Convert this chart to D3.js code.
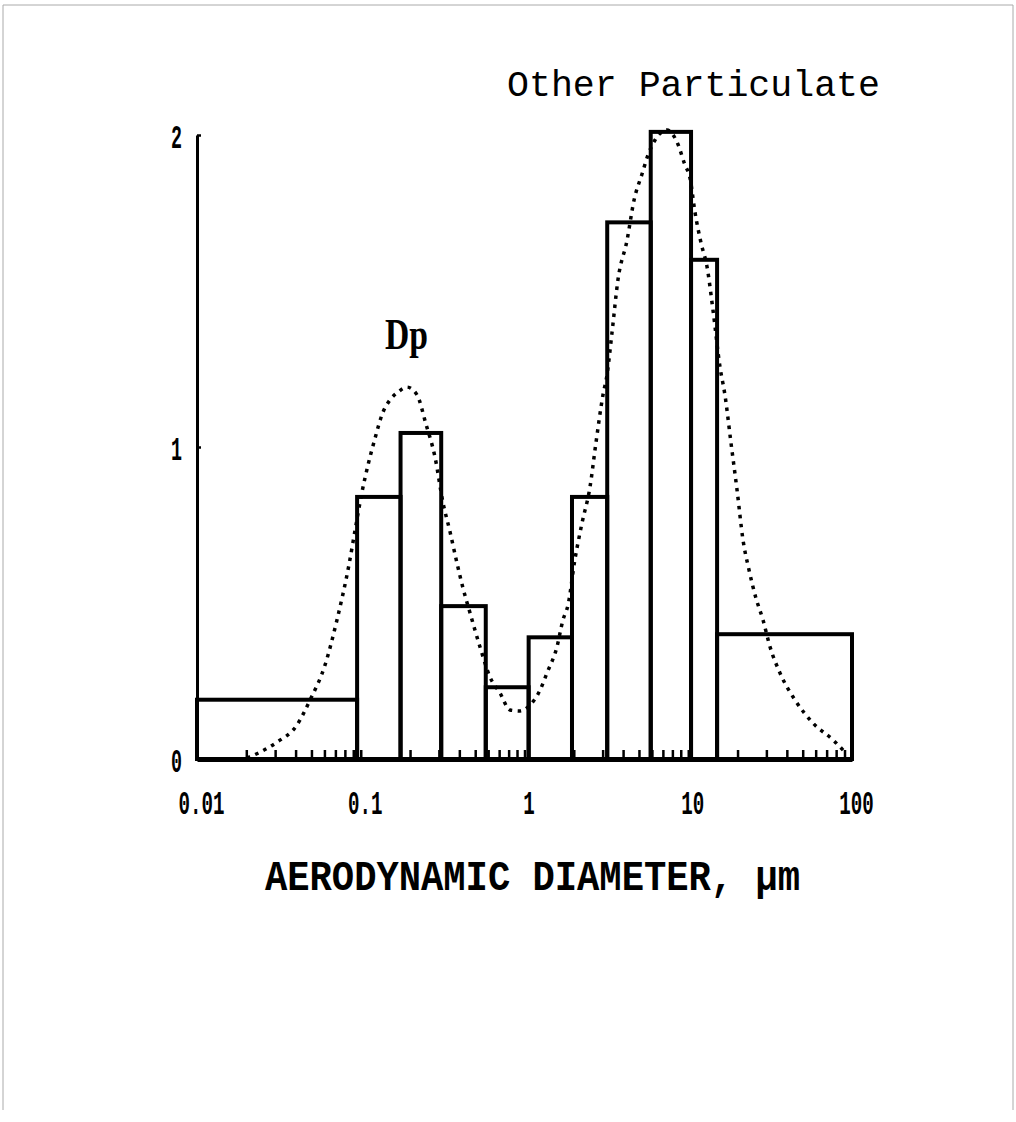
<!DOCTYPE html>
<html>
<head>
<meta charset="utf-8">
<script src="https://cdn.jsdelivr.net/npm/d3@7"></script>
<style>
	body { margin: 0; background: #fff; }
	svg { display: block; }
	.axis path, .axis line { stroke: #000; }
	.tick-label { font-family: 'Liberation Mono', monospace; font-weight: bold; font-size: 34px; fill: #000; }
</style>
</head>
<body>
<div id="chart"></div>
<script>
	// impactor stage edges (um) and measured heights
	const binEdges = [0.01, 0.095, 0.175, 0.31, 0.58, 1.06, 1.95, 3.2, 5.9, 10.4, 15, 100];
	const binHeights = [0.19, 0.84, 1.045, 0.49, 0.23, 0.39, 0.84, 1.72, 2.01, 1.6, 0.40];

	// dotted fitted curve
	const curveDiameters = [0.0202, 0.0243, 0.0308, 0.0408, 0.049, 0.0605, 0.0716, 0.0847, 0.0935, 0.1018,
		0.1107, 0.1205, 0.1368, 0.151, 0.1688, 0.1916, 0.2206, 0.25, 0.284, 0.318,
		0.351, 0.387, 0.421, 0.465, 0.535, 0.615, 0.708, 0.815, 0.939, 1.081,
		1.245, 1.372, 1.578, 1.718, 1.845, 2.03, 2.244, 2.512, 2.735, 3.015,
		3.19, 3.42, 3.72, 4.23, 4.67, 5.22, 5.68, 6.27, 7.41, 8.53,
		9.55, 10.25, 10.99, 11.97, 13.03, 14.16, 15.63, 16.75, 18.24, 19.86,
		21.6, 23.5, 25.9, 28.6, 31.6, 36.3, 44.9, 57.8, 76.6, 90.6];
	const curveValues = [0.003, 0.022, 0.054, 0.109, 0.189, 0.301, 0.446, 0.622, 0.75, 0.856,
		0.942, 1.016, 1.112, 1.151, 1.176, 1.192, 1.167, 1.074, 0.968, 0.821,
		0.728, 0.628, 0.548, 0.468, 0.359, 0.263, 0.212, 0.157, 0.154, 0.173,
		0.221, 0.276, 0.359, 0.446, 0.494, 0.638, 0.756, 0.872, 1.016, 1.167,
		1.231, 1.365, 1.535, 1.663, 1.792, 1.875, 1.936, 1.984, 2.016, 1.978,
		1.904, 1.862, 1.753, 1.654, 1.577, 1.439, 1.256, 1.167, 1.013, 0.862,
		0.702, 0.606, 0.516, 0.446, 0.359, 0.276, 0.189, 0.115, 0.061, 0.022];

	const xTickValues = [0.01, 0.1, 1, 10, 100];
	const xTickLabels = ['0.01', '0.1', '1', '10', '100'];
	const yTickValues = [0, 1, 2];
	const yTickLabels = ['0', '1', '2'];

	const margin = { top: 135, left: 197 };
	const width = 655;
	const height = 624;

	const svg = d3.select('#chart').append('svg')
		.attr('width', 1016)
		.attr('height', 1122);

	// scanned page frame
	svg.append('path')
		.attr('d', 'M3,1110V5H1013V1110')
		.style('fill', 'none')
		.style('stroke', '#aaa')
		.style('stroke-width', 1);

	const chart = svg.append('g')
		.attr('transform', `translate(${margin.left}, ${margin.top})`);

	const x = d3.scaleLog()
		.domain([0.01, 100])
		.range([0, width]);
	const y = d3.scaleLinear()
		.domain([0, 2])
		.range([height, 0]);

	// bars
	const bins = binHeights.map((h, i) => ({ x0: binEdges[i], x1: binEdges[i + 1], value: h }));
	chart.selectAll('.bar')
		.data(bins)
		.enter().append('rect')
			.attr('class', 'bar')
			.attr('x', d => x(d.x0))
			.attr('y', d => y(d.value))
			.attr('width', d => x(d.x1) - x(d.x0))
			.attr('height', d => y(0) - y(d.value))
			.style('fill', 'none')
			.style('stroke', '#000')
			.style('stroke-width', 4);

	// dotted curve
	const line = d3.line()
		.x(d => x(d[0]))
		.y(d => y(d[1]))
		.curve(d3.curveMonotoneX);
	chart.append('path')
		.datum(d3.zip(curveDiameters, curveValues))
		.attr('d', line)
		.style('fill', 'none')
		.style('stroke', '#000')
		.style('stroke-width', 3.5)
		.style('stroke-dasharray', '3.5,5.5');

	// minor ticks pointing up
	chart.append('g')
		.attr('class', 'x axis minor')
		.attr('transform', `translate(0, ${height})`)
		.call(d3.axisTop(x).tickValues(x.ticks()).tickSize(9).tickFormat(''))
		.call(g => g.select('.domain').remove())
		.call(g => g.selectAll('line').style('stroke-width', 2.5));

	// axes
	const xAxis = d3.axisBottom(x)
		.tickValues(xTickValues)
		.tickSize(0)
		.tickPadding(31)
		.tickFormat((d, i) => xTickLabels[i]);
	chart.append('g')
		.attr('class', 'x axis')
		.attr('transform', `translate(0, ${height})`)
		.call(xAxis)
		.call(g => g.select('.domain').style('stroke-width', 5))
		.call(g => g.selectAll('text')
			.attr('class', 'tick-label')
			.attr('dx', 4)
			.attr('textLength', (d, i) => xTickLabels[i].length * 11.5)
			.attr('lengthAdjust', 'spacingAndGlyphs'));

	const yAxis = d3.axisLeft(y)
		.tickValues(yTickValues)
		.tickSizeInner(-4)
		.tickSizeOuter(0)
		.tickPadding(15)
		.tickFormat((d, i) => yTickLabels[i]);
	chart.append('g')
		.attr('class', 'y axis')
		.call(yAxis)
		.call(g => g.select('.domain').style('stroke-width', 3))
		.call(g => g.selectAll('line').style('stroke-width', 2.5))
		.call(g => g.selectAll('text')
			.attr('class', 'tick-label')
			.attr('dy', '0.36em')
			.attr('textLength', 11)
			.attr('lengthAdjust', 'spacingAndGlyphs'));

	// labels
	chart.append('text')
		.attr('x', x(0.19))
		.attr('y', y(1.315))
		.style('text-anchor', 'middle')
		.style('font-family', 'Liberation Serif, serif')
		.style('font-weight', 'bold')
		.style('font-size', '44px')
		.attr('textLength', 43)
		.attr('lengthAdjust', 'spacingAndGlyphs')
		.text('Dp');

	svg.append('text')
		.attr('x', 507)
		.attr('y', 96)
		.style('font-family', 'Liberation Mono, monospace')
		.style('font-size', '37px')
		.attr('textLength', 373)
		.attr('lengthAdjust', 'spacingAndGlyphs')
		.text('Other Particulate');

	svg.append('text')
		.attr('x', 265)
		.attr('y', 890)
		.style('font-family', 'Liberation Mono, monospace')
		.style('font-weight', 'bold')
		.style('font-size', '42px')
		.attr('textLength', 535)
		.attr('lengthAdjust', 'spacingAndGlyphs')
		.text('AERODYNAMIC DIAMETER, µm');
</script>
</body>
</html>
